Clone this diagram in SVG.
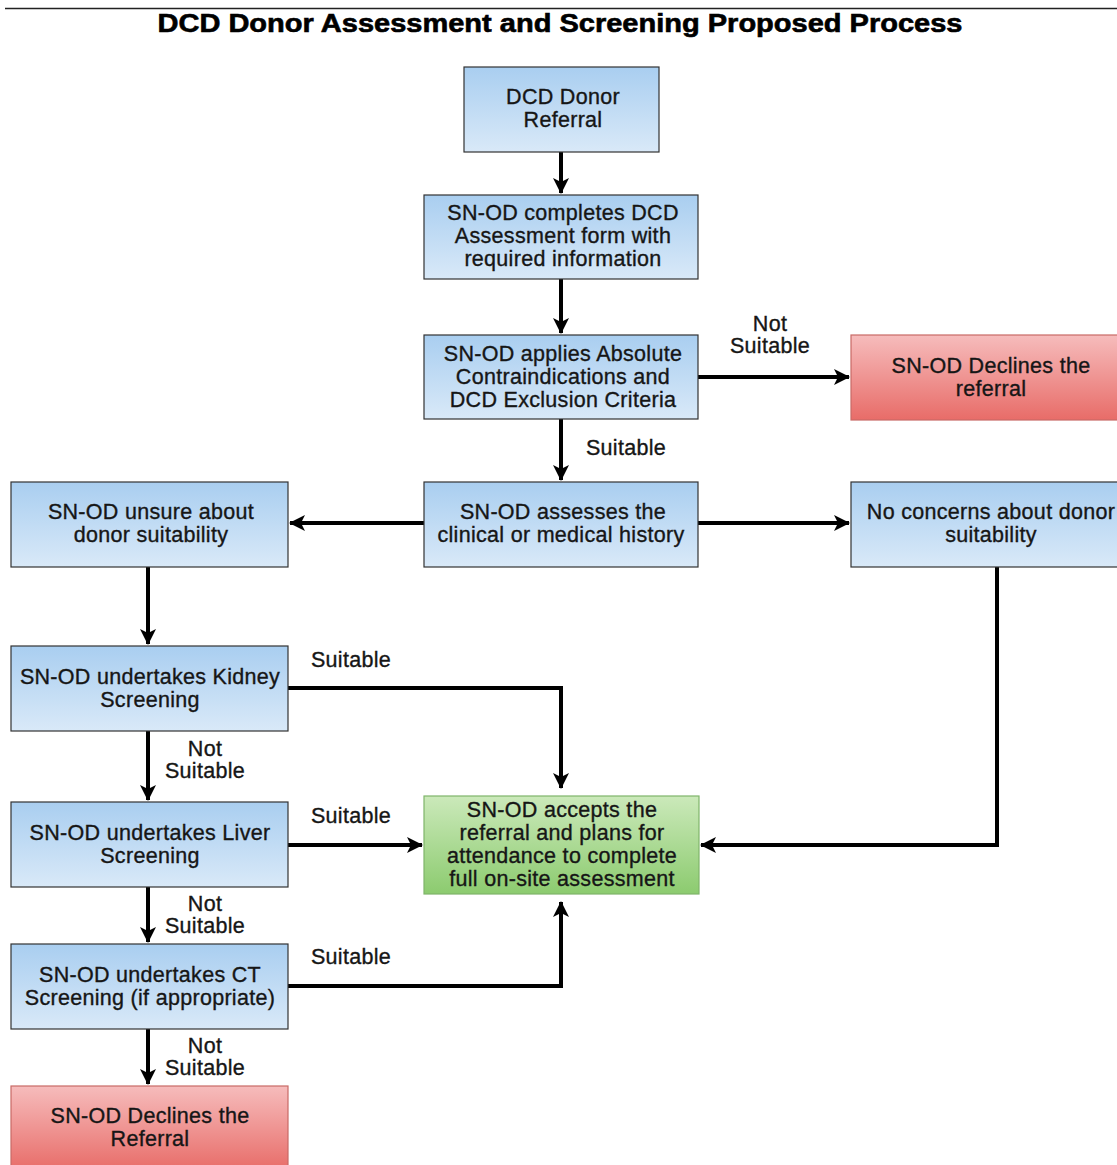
<svg xmlns="http://www.w3.org/2000/svg" width="1117" height="1165" viewBox="0 0 1117 1165">
<defs>
<linearGradient id="gBlue" x1="0" y1="0" x2="0" y2="1"><stop offset="0" stop-color="#a9cef0"/><stop offset="1" stop-color="#d9e9f8"/></linearGradient>
<linearGradient id="gRed" x1="0" y1="0" x2="0" y2="1"><stop offset="0" stop-color="#f6bcbc"/><stop offset="1" stop-color="#e86c68"/></linearGradient>
<linearGradient id="gGreen" x1="0" y1="0" x2="0" y2="1"><stop offset="0" stop-color="#cbe9ba"/><stop offset="1" stop-color="#8ccb6f"/></linearGradient>
<marker id="arr" viewBox="0 0 16 16" refX="15" refY="8" markerWidth="16" markerHeight="16" markerUnits="userSpaceOnUse" orient="auto">
<path d="M0,0 L16,8 L0,16 L4,8 z" fill="#000"/>
</marker>
<style>
.box{stroke:#333;stroke-width:1.2}
.blue{fill:url(#gBlue)}
.red{fill:url(#gRed);stroke:#c96a66}
.green{fill:url(#gGreen);stroke:#7fb56a}
text{font-family:"Liberation Sans",Arial,sans-serif;font-size:21.5px;letter-spacing:0.3px;fill:#161616;stroke:#161616;stroke-width:0.35;text-anchor:middle}
.title{font-weight:bold;font-size:25px;letter-spacing:0;stroke:#000;stroke-width:0.6;fill:#000}
.c{fill:none;stroke:#000;stroke-width:4;marker-end:url(#arr)}
</style>
</defs>
<rect width="1117" height="1165" fill="#fff"/>
<line x1="5" y1="8.5" x2="1117" y2="8.5" stroke="#222" stroke-width="1.5"/>
<text class="title" x="560" y="32" textLength="805" lengthAdjust="spacingAndGlyphs">DCD Donor Assessment and Screening Proposed Process</text>

<g id="connectors">
<path class="c" d="M561,152 V193"/>
<path class="c" d="M561,279 V333"/>
<path class="c" d="M698,377 H849"/>
<path class="c" d="M561,419 V480"/>
<path class="c" d="M424,523 H290"/>
<path class="c" d="M698,523 H849"/>
<path class="c" d="M148,567 V644"/>
<path class="c" d="M288,688 H561 V788"/>
<path class="c" d="M148,731 V800"/>
<path class="c" d="M288,845 H422"/>
<path class="c" d="M148,887 V942"/>
<path class="c" d="M288,986 H561 V902"/>
<path class="c" d="M148,1029 V1084"/>
<path class="c" d="M997,567 V845 H701"/>
<text x="770" y="331">Not</text>
<text x="770" y="353">Suitable</text>
<text x="626" y="455">Suitable</text>
<text x="351" y="667">Suitable</text>
<text x="205" y="756">Not</text>
<text x="205" y="778">Suitable</text>
<text x="351" y="823">Suitable</text>
<text x="205" y="911">Not</text>
<text x="205" y="933">Suitable</text>
<text x="351" y="964">Suitable</text>
<text x="205" y="1053">Not</text>
<text x="205" y="1075">Suitable</text>
</g>

<g id="n1"><rect class="box blue" x="464" y="67" width="195" height="85"/>
<text x="563" y="104">DCD Donor</text><text x="563" y="127">Referral</text></g>

<g id="n2"><rect class="box blue" x="424" y="195" width="274" height="84"/>
<text x="563" y="220">SN-OD completes DCD</text><text x="563" y="243">Assessment form with</text><text x="563" y="266">required information</text></g>

<g id="n3"><rect class="box blue" x="424" y="335" width="274" height="84"/>
<text x="563" y="361">SN-OD applies Absolute</text><text x="563" y="384">Contraindications and</text><text x="563" y="407">DCD Exclusion Criteria</text></g>

<g id="n4"><rect class="box red" x="851" y="335" width="270" height="85"/>
<text x="991" y="373">SN-OD Declines the</text><text x="991" y="396">referral</text></g>

<g id="n5"><rect class="box blue" x="424" y="482" width="274" height="85"/>
<text x="563" y="519">SN-OD assesses the</text><text x="561" y="542">clinical or medical history</text></g>

<g id="n6"><rect class="box blue" x="11" y="482" width="277" height="85"/>
<text x="151" y="519">SN-OD unsure about</text><text x="151" y="542">donor suitability</text></g>

<g id="n7"><rect class="box blue" x="851" y="482" width="270" height="85"/>
<text x="991" y="519">No concerns about donor</text><text x="991" y="542">suitability</text></g>

<g id="n8"><rect class="box blue" x="11" y="646" width="277" height="85"/>
<text x="150" y="684">SN-OD undertakes Kidney</text><text x="150" y="707">Screening</text></g>

<g id="n9"><rect class="box blue" x="11" y="802" width="277" height="85"/>
<text x="150" y="840">SN-OD undertakes Liver</text><text x="150" y="863">Screening</text></g>

<g id="n10"><rect class="box blue" x="11" y="944" width="277" height="85"/>
<text x="150" y="982">SN-OD undertakes CT</text><text x="150" y="1005">Screening (if appropriate)</text></g>

<g id="n11"><rect class="box red" x="11" y="1086" width="277" height="85"/>
<text x="150" y="1123">SN-OD Declines the</text><text x="150" y="1146">Referral</text></g>

<g id="n12"><rect class="box green" x="424" y="796" width="275" height="98"/>
<text x="562" y="817">SN-OD accepts the</text><text x="562" y="840">referral and plans for</text><text x="562" y="863">attendance to complete</text><text x="562" y="886">full on-site assessment</text></g>
</svg>
